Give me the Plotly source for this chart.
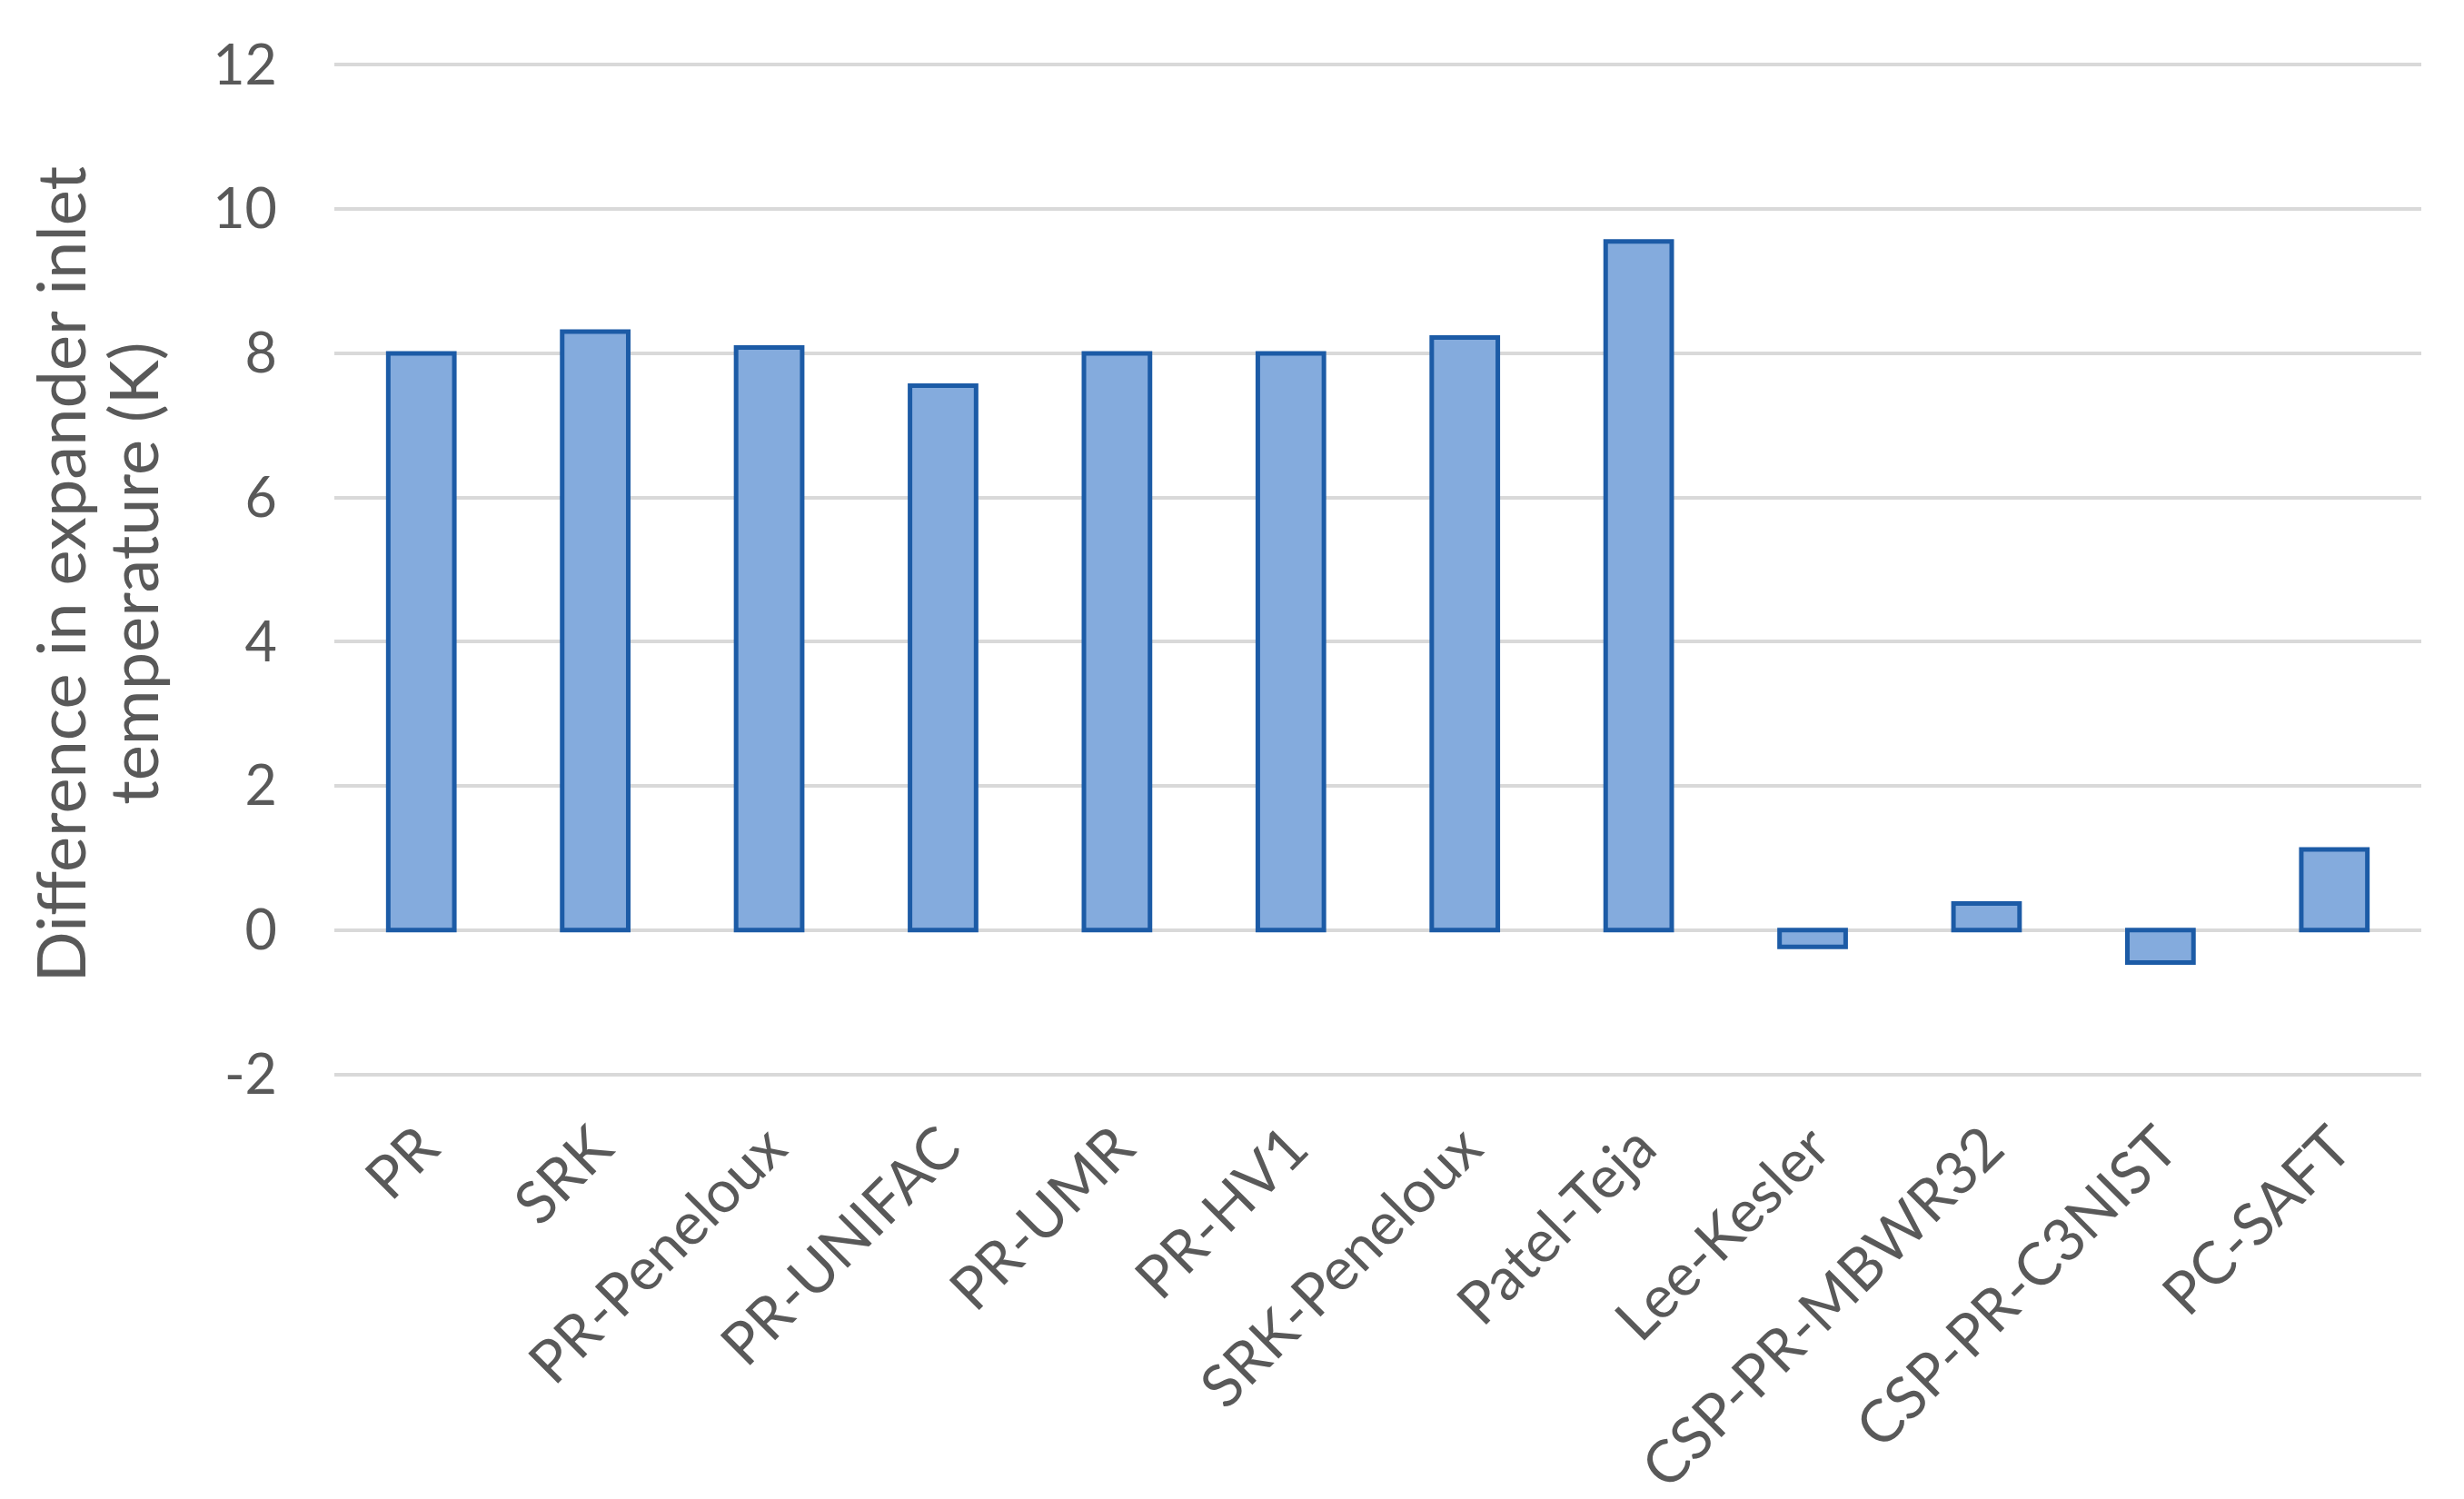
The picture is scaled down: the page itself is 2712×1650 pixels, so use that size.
import plotly.graph_objects as go

# equations of state compared
models = [
    "PR", "SRK", "PR-Peneloux", "PR-UNIFAC", "PR-UMR", "PR-HV1",
    "SRK-Peneloux", "Patel-Teja", "Lee-Kesler", "CSP-PR-MBWR32",
    "CSP-PR-C3NIST", "PC-SAFT",
]
# difference in expander inlet temperature (K)
temp_diff = [8.0, 8.3, 8.08, 7.55, 8.0, 8.0, 8.22, 9.55, -0.23, 0.37, -0.45, 1.12]

y_ticks = [-2, 0, 2, 4, 6, 8, 10, 12]
y_tick_text = ["-2", "0", "2", "4", "6", "8", "10", "12"]
title_lines = ["Difference in expander inlet", "temperature (K)"]

font_family = "Lato, 'Open Sans', sans-serif"
text_color = "#595959"
grid_color = "#D9D9D9"

fig = go.Figure(
    go.Bar(
        x=models,
        y=temp_diff,
        marker=dict(color="#84ABDD", line=dict(color="#1C5BA6", width=5)),
    )
)

fig.update_layout(
    width=2712,
    height=1650,
    plot_bgcolor="white",
    paper_bgcolor="white",
    bargap=0.62,
    showlegend=False,
    margin=dict(l=360, r=55, t=61, b=473),
    font=dict(family=font_family, color=text_color, size=58),
)

fig.update_xaxes(
    tickangle=-45,
    tickfont=dict(size=65, color=text_color),
    showgrid=False,
    showline=False,
    ticks="",
    ticklabelstandoff=26,
    automargin=False,
)

fig.update_yaxes(
    range=[-2.03, 12.03],
    tickvals=y_ticks,
    ticktext=y_tick_text,
    tickfont=dict(size=61, color=text_color),
    showgrid=True,
    gridcolor=grid_color,
    gridwidth=4,
    zeroline=True,
    zerolinecolor=grid_color,
    zerolinewidth=4,
    ticks="",
    ticklabelstandoff=62,
    automargin=False,
)

# two-line axis title, placed line by line
for x_pos, line in zip([-0.1315, -0.0970], title_lines):
    fig.add_annotation(
        text=line,
        xref="paper", yref="paper",
        x=x_pos, y=0.496,
        xanchor="center", yanchor="middle",
        textangle=-90,
        showarrow=False,
        font=dict(size=74, color=text_color, family=font_family),
    )

fig.write_html("out.html")
